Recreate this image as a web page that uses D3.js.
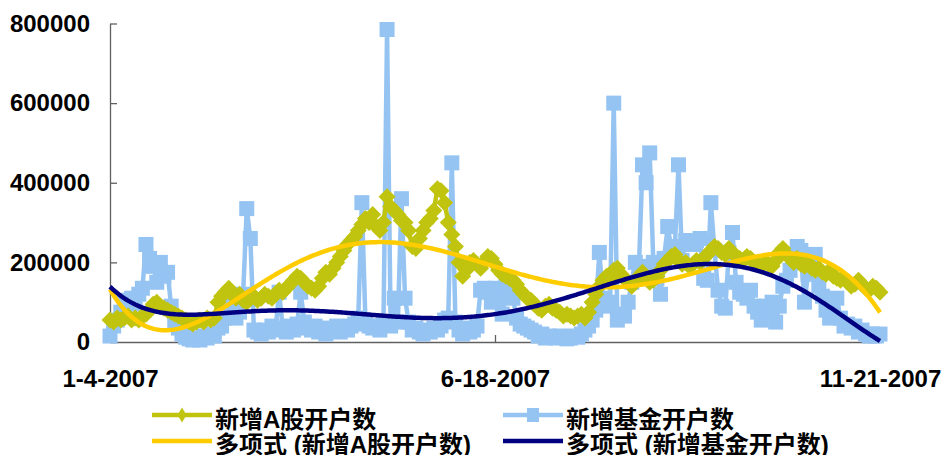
<!DOCTYPE html>
<html>
<head>
<meta charset="utf-8">
<script src="https://cdn.jsdelivr.net/npm/d3@7"></script>
<style>
  html, body { margin: 0; padding: 0; background: #fff; }
  svg { display: block; font-family: "Liberation Sans", Arial, "Noto Sans CJK SC", sans-serif; font-weight: bold; }
</style>
</head>
<body>
<svg id="chart" width="944" height="455"></svg>
<script>
// Daily new A-share accounts, trading days 2007-01-04 .. 2007-11-21
const aShareAccounts = [
  55000,50000,60000,55000,60000,65000,55000,60000,55000,65000,
  70000,80000,95000,100000,90000,85000,80000,75000,70000,65000,
  60000,55000,50000,45000,50000,55000,50000,60000,55000,60000,
  100000,115000,125000,135000,120000,110000,120000,105000,100000,110000,
  115000,105000,110000,120000,115000,110000,120000,130000,125000,135000,
  145000,155000,165000,160000,150000,140000,135000,130000,140000,160000,
  175000,170000,185000,200000,215000,230000,245000,255000,265000,280000,
  295000,310000,300000,320000,290000,280000,300000,365000,340000,330000,
  320000,305000,300000,280000,240000,235000,260000,280000,300000,310000,
  330000,385000,380000,350000,300000,270000,240000,200000,165000,180000,
  200000,205000,195000,185000,200000,215000,210000,195000,180000,170000,
  165000,160000,155000,145000,130000,120000,110000,105000,95000,85000,
  80000,90000,95000,85000,80000,75000,65000,70000,65000,60000,
  65000,70000,60000,75000,100000,120000,140000,155000,165000,160000,
  180000,185000,170000,160000,150000,140000,155000,165000,175000,160000,
  150000,155000,165000,180000,195000,205000,215000,220000,205000,195000,
  200000,190000,195000,205000,200000,210000,220000,230000,240000,235000,
  225000,220000,235000,225000,215000,210000,205000,215000,210000,200000,
  195000,190000,200000,195000,190000,205000,225000,235000,220000,210000,
  200000,210000,195000,190000,200000,185000,180000,185000,175000,170000,
  180000,165000,160000,155000,160000,150000,140000,145000,155000,145000,
  135000,130000,140000,135000,125000
];

// Daily new fund accounts, same trading days
const fundAccounts = [
  15000,40000,55000,75000,100000,105000,110000,95000,120000,135000,
  245000,210000,190000,150000,200000,165000,175000,90000,50000,35000,
  20000,12000,8000,5000,10000,5000,15000,10000,20000,15000,
  35000,40000,60000,85000,90000,60000,75000,120000,335000,260000,
  30000,25000,20000,30000,25000,40000,30000,125000,35000,25000,
  40000,30000,45000,125000,50000,35000,30000,40000,25000,30000,
  20000,35000,30000,40000,25000,35000,30000,40000,45000,60000,
  350000,50000,40000,35000,40000,30000,45000,785000,40000,110000,
  50000,360000,110000,50000,30000,35000,25000,20000,30000,25000,
  35000,30000,40000,55000,60000,450000,50000,30000,20000,35000,
  25000,30000,40000,130000,135000,125000,100000,135000,105000,70000,
  140000,120000,110000,60000,45000,40000,35000,30000,25000,15000,
  20000,10000,15000,12000,10000,15000,12000,8000,10000,15000,
  12000,20000,30000,40000,55000,80000,225000,110000,90000,100000,
  600000,55000,70000,65000,100000,150000,200000,190000,445000,400000,
  475000,200000,160000,120000,210000,290000,235000,240000,445000,205000,
  255000,250000,245000,255000,260000,160000,155000,350000,230000,130000,
  90000,85000,225000,275000,150000,125000,120000,110000,130000,90000,
  75000,55000,90000,85000,100000,50000,90000,140000,155000,180000,
  200000,240000,230000,100000,170000,175000,220000,140000,115000,80000,
  60000,70000,110000,60000,40000,45000,35000,40000,25000,30000,
  20000,15000,20000,15000,20000
];

// Category positions that carry a date label
const tickIndex = [0, 107, 214];
const tickLabels = ["1-4-2007", "6-18-2007", "11-21-2007"];
const yTicks = [0, 200000, 400000, 600000, 800000];

const seriesNames = ["新增A股开户数", "新增基金开户数"];
const trendNames = ["多项式 (新增A股开户数)", "多项式 (新增基金开户数)"];

const colors = {
  aShare: "#C0C40E",
  fund: "#95C4F3",
  aTrend: "#FFCC00",
  fundTrend: "#000080",
  axis: "#606060"
};

const svg = d3.select("#chart");
const n = aShareAccounts.length;

const x = d3.scaleLinear().domain([0, n - 1]).range([110, 880]);
const y = d3.scaleLinear().domain([0, 800000]).range([342, 23.5]);

// Least-squares polynomial trend (order 6) over the category index
function polyTrend(values, degree) {
  const m = degree + 1;
  const N = values.length;
  const u = i => 2 * i / (N - 1) - 1;
  const A = Array.from({ length: m }, () => new Array(m + 1).fill(0));
  values.forEach((v, i) => {
    const p = [];
    let t = 1;
    for (let j = 0; j < m; j++) { p.push(t); t *= u(i); }
    for (let r = 0; r < m; r++) {
      for (let c = 0; c < m; c++) A[r][c] += p[r] * p[c];
      A[r][m] += p[r] * v;
    }
  });
  for (let col = 0; col < m; col++) {
    let piv = col;
    for (let r = col + 1; r < m; r++) if (Math.abs(A[r][col]) > Math.abs(A[piv][col])) piv = r;
    [A[col], A[piv]] = [A[piv], A[col]];
    for (let r = 0; r < m; r++) {
      if (r === col) continue;
      const f = A[r][col] / A[col][col];
      for (let c = col; c <= m; c++) A[r][c] -= f * A[col][c];
    }
  }
  const coef = A.map((row, i) => row[m] / row[i]);
  return i => {
    const t = u(i);
    let s = 0, p = 1;
    for (const c of coef) { s += c * p; p *= t; }
    return s;
  };
}

// Axes
const yAxis = d3.axisLeft(y).tickValues(yTicks).tickFormat(d3.format("d"))
  .tickSize(-7).tickSizeOuter(0).tickPadding(20);
const gy = svg.append("g").attr("transform", "translate(110,0)").call(yAxis);
gy.selectAll("text").attr("font-size", 24).attr("fill", "#000")
  .attr("font-family", '"Liberation Sans", Arial, sans-serif').attr("font-weight", "bold");

const xAxis = d3.axisBottom(x).tickValues(tickIndex)
  .tickFormat((d, i) => tickLabels[i]).tickSize(-7).tickSizeOuter(0).tickPadding(28);
const gx = svg.append("g").attr("transform", "translate(0,342)").call(xAxis);
gx.selectAll("text").attr("font-size", 24).attr("fill", "#000")
  .attr("font-family", '"Liberation Sans", Arial, sans-serif').attr("font-weight", "bold");

[gx, gy].forEach(g => {
  g.select(".domain").attr("stroke", colors.axis).attr("stroke-width", 1.3);
  g.selectAll(".tick line").attr("stroke", colors.axis).attr("stroke-width", 1.3);
});

const line = d3.line().x((d, i) => x(i)).y(d => y(d));
const plot = svg.append("g");

// Fund accounts: light blue line with square markers
plot.append("path").datum(fundAccounts)
  .attr("d", line).attr("fill", "none")
  .attr("stroke", colors.fund).attr("stroke-width", 4.5).attr("stroke-linejoin", "round");
plot.append("g").selectAll("rect").data(fundAccounts).join("rect")
  .attr("x", (d, i) => x(i) - 7.5).attr("y", d => y(d) - 7.5)
  .attr("width", 15).attr("height", 15).attr("fill", colors.fund);

// A-share accounts: olive line with diamond markers
const diamond = "M0,-8.5L8.5,0L0,8.5L-8.5,0Z";
plot.append("path").datum(aShareAccounts)
  .attr("d", line).attr("fill", "none")
  .attr("stroke", colors.aShare).attr("stroke-width", 4.5).attr("stroke-linejoin", "round");
plot.append("g").selectAll("path").data(aShareAccounts).join("path")
  .attr("d", diamond)
  .attr("transform", (d, i) => `translate(${x(i)},${y(d)})`)
  .attr("fill", colors.aShare);

// Polynomial trendlines
const samples = d3.range(0, n - 1 + 0.001, 0.5);
const trendLine = f => d3.line().x(t => x(t)).y(t => y(f(t)))(samples);
const aFit = polyTrend(aShareAccounts, 6);
const fFit = polyTrend(fundAccounts, 6);
plot.append("path").attr("d", trendLine(aFit)).attr("fill", "none")
  .attr("stroke", colors.aTrend).attr("stroke-width", 4.5);
plot.append("path").attr("d", trendLine(fFit)).attr("fill", "none")
  .attr("stroke", colors.fundTrend).attr("stroke-width", 4.5);

// Legend
const legend = svg.append("g").attr("font-size", 24).attr("font-weight", "bold");
const legendItems = [
  { label: seriesNames[0], color: colors.aShare, marker: "diamond", lx: 152, ly: 415, ty: 419 },
  { label: seriesNames[1], color: colors.fund, marker: "square", lx: 503, ly: 415, ty: 419 },
  { label: trendNames[0], color: colors.aTrend, marker: null, lx: 152, ly: 441, ty: 444 },
  { label: trendNames[1], color: colors.fundTrend, marker: null, lx: 503, ly: 441, ty: 444 }
];
legendItems.forEach(it => {
  const g = legend.append("g");
  g.append("line").attr("x1", it.lx).attr("x2", it.lx + 60)
    .attr("y1", it.ly).attr("y2", it.ly)
    .attr("stroke", it.color).attr("stroke-width", 4.5);
  const cx = it.lx + 30;
  if (it.marker === "diamond") {
    g.append("path").attr("d", "M0,-7.5L4.5,0L0,7.5L-4.5,0Z")
      .attr("transform", `translate(${cx},${it.ly})`).attr("fill", it.color);
  } else if (it.marker === "square") {
    g.append("rect").attr("x", cx - 6).attr("y", it.ly - 7)
      .attr("width", 12).attr("height", 14).attr("fill", it.color);
  }
  g.append("text").attr("x", it.lx + 63).attr("y", it.ty)
    .attr("dominant-baseline", "central").attr("fill", "#000").text(it.label);
});
</script>
</body>
</html>
